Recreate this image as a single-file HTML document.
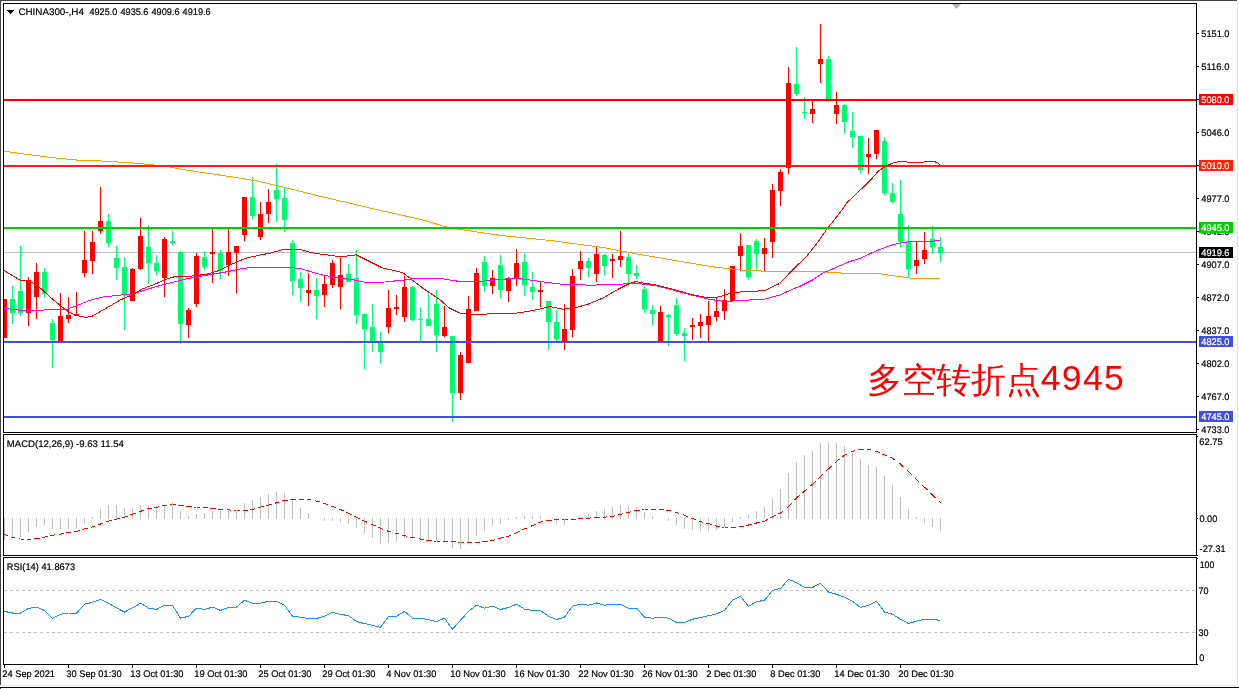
<!DOCTYPE html>
<html><head><meta charset="utf-8"><title>CHINA300 H4</title>
<style>html,body{margin:0;padding:0;background:#fff;overflow:hidden}svg{display:block}text{font-family:"Liberation Sans",sans-serif}svg{will-change:transform;transform:translateZ(0)}</style>
</head><body>
<svg width="1239" height="689" viewBox="0 0 1239 689"><rect x="0" y="0" width="1237" height="1" fill="#444"/>
<rect x="0" y="0" width="1" height="685" fill="#444"/>
<rect x="1237" y="1" width="1" height="684" fill="#e4e4e4"/>
<rect x="1" y="685" width="1237" height="1" fill="#e8e8e8"/>
<rect x="0" y="687" width="1239" height="1" fill="#000"/>
<rect x="0" y="688" width="1" height="1" fill="#444"/>
<rect x="3" y="3" width="1194" height="1" fill="#000"/>
<rect x="3" y="3" width="1" height="430" fill="#000"/>
<rect x="1196" y="3" width="1" height="430" fill="#000"/>
<rect x="3" y="432" width="1194" height="1" fill="#000"/>
<rect x="3" y="434" width="1194" height="1" fill="#000"/>
<rect x="3" y="434" width="1" height="122" fill="#000"/>
<rect x="1196" y="434" width="1" height="122" fill="#000"/>
<rect x="3" y="555" width="1194" height="1" fill="#000"/>
<rect x="3" y="557" width="1194" height="1" fill="#000"/>
<rect x="3" y="557" width="1" height="108" fill="#000"/>
<rect x="1196" y="557" width="1" height="108" fill="#000"/>
<rect x="3" y="664" width="1194" height="1" fill="#000"/>
<path d="M952 4H961L956.5 9Z" fill="#b4b4b4"/>
<clipPath id="cm"><rect x="4" y="4" width="1192" height="428"/></clipPath>
<g clip-path="url(#cm)" shape-rendering="crispEdges">
<rect x="4" y="252" width="1192" height="1" fill="#c0c0c0"/>
<rect x="4" y="299" width="1" height="39" fill="#ff0000"/>
<rect x="2" y="299" width="5" height="39" fill="#ff0000"/>
<rect x="12" y="286" width="1" height="38" fill="#00fb72"/>
<rect x="10" y="299" width="5" height="14" fill="#00fb72"/>
<rect x="20" y="246" width="1" height="70" fill="#00fb72"/>
<rect x="18" y="291" width="5" height="22" fill="#00fb72"/>
<rect x="28" y="277" width="1" height="49" fill="#ff0000"/>
<rect x="26" y="280" width="5" height="33" fill="#ff0000"/>
<rect x="36" y="263" width="1" height="56" fill="#ff0000"/>
<rect x="34" y="272" width="5" height="25" fill="#ff0000"/>
<rect x="44" y="268" width="1" height="30" fill="#00fb72"/>
<rect x="42" y="272" width="5" height="22" fill="#00fb72"/>
<rect x="52" y="319" width="1" height="49" fill="#00fb72"/>
<rect x="50" y="323" width="5" height="17" fill="#00fb72"/>
<rect x="60" y="293" width="1" height="48" fill="#ff0000"/>
<rect x="58" y="316" width="5" height="25" fill="#ff0000"/>
<rect x="68" y="297" width="1" height="26" fill="#ff0000"/>
<rect x="66" y="315" width="5" height="4" fill="#ff0000"/>
<rect x="76" y="292" width="1" height="24" fill="#ff0000"/>
<rect x="74" y="314" width="5" height="2" fill="#ff0000"/>
<rect x="84" y="231" width="1" height="46" fill="#ff0000"/>
<rect x="82" y="260" width="5" height="13" fill="#ff0000"/>
<rect x="92" y="231" width="1" height="43" fill="#ff0000"/>
<rect x="90" y="242" width="5" height="19" fill="#ff0000"/>
<rect x="100" y="187" width="1" height="47" fill="#ff0000"/>
<rect x="98" y="221" width="5" height="10" fill="#ff0000"/>
<rect x="108" y="214" width="1" height="33" fill="#00fb72"/>
<rect x="106" y="221" width="5" height="22" fill="#00fb72"/>
<rect x="116" y="246" width="1" height="34" fill="#00fb72"/>
<rect x="114" y="258" width="5" height="10" fill="#00fb72"/>
<rect x="124" y="257" width="1" height="73" fill="#00fb72"/>
<rect x="122" y="267" width="5" height="27" fill="#00fb72"/>
<rect x="132" y="268" width="1" height="33" fill="#ff0000"/>
<rect x="130" y="269" width="5" height="32" fill="#ff0000"/>
<rect x="140" y="218" width="1" height="52" fill="#ff0000"/>
<rect x="138" y="236" width="5" height="33" fill="#ff0000"/>
<rect x="148" y="225" width="1" height="59" fill="#00fb72"/>
<rect x="146" y="247" width="5" height="16" fill="#00fb72"/>
<rect x="156" y="255" width="1" height="20" fill="#00fb72"/>
<rect x="154" y="263" width="5" height="8" fill="#00fb72"/>
<rect x="164" y="237" width="1" height="60" fill="#ff0000"/>
<rect x="162" y="239" width="5" height="39" fill="#ff0000"/>
<rect x="172" y="231" width="1" height="14" fill="#00fb72"/>
<rect x="170" y="241" width="5" height="2" fill="#00fb72"/>
<rect x="180" y="251" width="1" height="93" fill="#00fb72"/>
<rect x="178" y="252" width="5" height="72" fill="#00fb72"/>
<rect x="188" y="308" width="1" height="30" fill="#ff0000"/>
<rect x="186" y="310" width="5" height="15" fill="#ff0000"/>
<rect x="196" y="253" width="1" height="54" fill="#ff0000"/>
<rect x="194" y="256" width="5" height="48" fill="#ff0000"/>
<rect x="204" y="251" width="1" height="19" fill="#00fb72"/>
<rect x="202" y="257" width="5" height="10" fill="#00fb72"/>
<rect x="212" y="229" width="1" height="54" fill="#ff0000"/>
<rect x="210" y="252" width="5" height="2" fill="#ff0000"/>
<rect x="220" y="250" width="1" height="29" fill="#00fb72"/>
<rect x="218" y="253" width="5" height="18" fill="#00fb72"/>
<rect x="228" y="229" width="1" height="47" fill="#ff0000"/>
<rect x="226" y="252" width="5" height="13" fill="#ff0000"/>
<rect x="236" y="246" width="1" height="47" fill="#ff0000"/>
<rect x="234" y="246" width="5" height="7" fill="#ff0000"/>
<rect x="244" y="197" width="1" height="44" fill="#ff0000"/>
<rect x="242" y="197" width="5" height="38" fill="#ff0000"/>
<rect x="252" y="177" width="1" height="42" fill="#00fb72"/>
<rect x="250" y="197" width="5" height="19" fill="#00fb72"/>
<rect x="260" y="202" width="1" height="38" fill="#ff0000"/>
<rect x="258" y="214" width="5" height="23" fill="#ff0000"/>
<rect x="268" y="189" width="1" height="34" fill="#ff0000"/>
<rect x="266" y="202" width="5" height="12" fill="#ff0000"/>
<rect x="276" y="164" width="1" height="58" fill="#00fb72"/>
<rect x="274" y="190" width="5" height="9" fill="#00fb72"/>
<rect x="284" y="188" width="1" height="44" fill="#00fb72"/>
<rect x="282" y="198" width="5" height="22" fill="#00fb72"/>
<rect x="292" y="240" width="1" height="55" fill="#00fb72"/>
<rect x="290" y="243" width="5" height="38" fill="#00fb72"/>
<rect x="300" y="272" width="1" height="30" fill="#00fb72"/>
<rect x="298" y="279" width="5" height="9" fill="#00fb72"/>
<rect x="308" y="273" width="1" height="33" fill="#ff0000"/>
<rect x="306" y="290" width="5" height="3" fill="#ff0000"/>
<rect x="316" y="278" width="1" height="41" fill="#00fb72"/>
<rect x="314" y="290" width="5" height="6" fill="#00fb72"/>
<rect x="324" y="276" width="1" height="31" fill="#ff0000"/>
<rect x="322" y="284" width="5" height="11" fill="#ff0000"/>
<rect x="332" y="260" width="1" height="28" fill="#ff0000"/>
<rect x="330" y="263" width="5" height="22" fill="#ff0000"/>
<rect x="340" y="258" width="1" height="51" fill="#ff0000"/>
<rect x="338" y="275" width="5" height="12" fill="#ff0000"/>
<rect x="348" y="264" width="1" height="18" fill="#00fb72"/>
<rect x="346" y="274" width="5" height="8" fill="#00fb72"/>
<rect x="356" y="250" width="1" height="74" fill="#00fb72"/>
<rect x="354" y="278" width="5" height="37" fill="#00fb72"/>
<rect x="364" y="314" width="1" height="55" fill="#00fb72"/>
<rect x="362" y="314" width="5" height="15" fill="#00fb72"/>
<rect x="372" y="304" width="1" height="48" fill="#00fb72"/>
<rect x="370" y="327" width="5" height="14" fill="#00fb72"/>
<rect x="380" y="332" width="1" height="31" fill="#00fb72"/>
<rect x="378" y="343" width="5" height="9" fill="#00fb72"/>
<rect x="388" y="290" width="1" height="43" fill="#ff0000"/>
<rect x="386" y="308" width="5" height="19" fill="#ff0000"/>
<rect x="396" y="295" width="1" height="20" fill="#ff0000"/>
<rect x="394" y="307" width="5" height="2" fill="#ff0000"/>
<rect x="404" y="276" width="1" height="46" fill="#ff0000"/>
<rect x="402" y="287" width="5" height="30" fill="#ff0000"/>
<rect x="412" y="286" width="1" height="35" fill="#00fb72"/>
<rect x="410" y="287" width="5" height="33" fill="#00fb72"/>
<rect x="420" y="307" width="1" height="34" fill="#00fb72"/>
<rect x="418" y="319" width="5" height="1" fill="#00fb72"/>
<rect x="428" y="294" width="1" height="32" fill="#00fb72"/>
<rect x="426" y="319" width="5" height="7" fill="#00fb72"/>
<rect x="436" y="290" width="1" height="62" fill="#00fb72"/>
<rect x="434" y="304" width="5" height="31" fill="#00fb72"/>
<rect x="444" y="306" width="1" height="31" fill="#ff0000"/>
<rect x="442" y="327" width="5" height="9" fill="#ff0000"/>
<rect x="452" y="336" width="1" height="86" fill="#00fb72"/>
<rect x="450" y="336" width="5" height="57" fill="#00fb72"/>
<rect x="460" y="352" width="1" height="48" fill="#ff0000"/>
<rect x="458" y="355" width="5" height="38" fill="#ff0000"/>
<rect x="468" y="296" width="1" height="67" fill="#ff0000"/>
<rect x="466" y="309" width="5" height="54" fill="#ff0000"/>
<rect x="476" y="268" width="1" height="43" fill="#ff0000"/>
<rect x="474" y="273" width="5" height="38" fill="#ff0000"/>
<rect x="484" y="256" width="1" height="35" fill="#00fb72"/>
<rect x="482" y="262" width="5" height="24" fill="#00fb72"/>
<rect x="492" y="270" width="1" height="24" fill="#ff0000"/>
<rect x="490" y="278" width="5" height="8" fill="#ff0000"/>
<rect x="500" y="255" width="1" height="43" fill="#00fb72"/>
<rect x="498" y="265" width="5" height="25" fill="#00fb72"/>
<rect x="508" y="277" width="1" height="25" fill="#ff0000"/>
<rect x="506" y="279" width="5" height="12" fill="#ff0000"/>
<rect x="516" y="249" width="1" height="37" fill="#ff0000"/>
<rect x="514" y="263" width="5" height="15" fill="#ff0000"/>
<rect x="524" y="254" width="1" height="42" fill="#00fb72"/>
<rect x="522" y="262" width="5" height="23" fill="#00fb72"/>
<rect x="532" y="272" width="1" height="28" fill="#00fb72"/>
<rect x="530" y="287" width="5" height="5" fill="#00fb72"/>
<rect x="540" y="282" width="1" height="25" fill="#ff0000"/>
<rect x="538" y="290" width="5" height="2" fill="#ff0000"/>
<rect x="548" y="301" width="1" height="49" fill="#00fb72"/>
<rect x="546" y="301" width="5" height="21" fill="#00fb72"/>
<rect x="556" y="310" width="1" height="31" fill="#00fb72"/>
<rect x="554" y="322" width="5" height="17" fill="#00fb72"/>
<rect x="564" y="304" width="1" height="46" fill="#ff0000"/>
<rect x="562" y="329" width="5" height="12" fill="#ff0000"/>
<rect x="572" y="269" width="1" height="68" fill="#ff0000"/>
<rect x="570" y="276" width="5" height="54" fill="#ff0000"/>
<rect x="580" y="251" width="1" height="29" fill="#ff0000"/>
<rect x="578" y="261" width="5" height="8" fill="#ff0000"/>
<rect x="588" y="258" width="1" height="19" fill="#00fb72"/>
<rect x="586" y="261" width="5" height="7" fill="#00fb72"/>
<rect x="596" y="246" width="1" height="36" fill="#ff0000"/>
<rect x="594" y="254" width="5" height="20" fill="#ff0000"/>
<rect x="604" y="254" width="1" height="21" fill="#00fb72"/>
<rect x="602" y="255" width="5" height="11" fill="#00fb72"/>
<rect x="612" y="254" width="1" height="24" fill="#ff0000"/>
<rect x="610" y="259" width="5" height="2" fill="#ff0000"/>
<rect x="620" y="231" width="1" height="36" fill="#ff0000"/>
<rect x="618" y="256" width="5" height="4" fill="#ff0000"/>
<rect x="628" y="253" width="1" height="30" fill="#00fb72"/>
<rect x="626" y="257" width="5" height="17" fill="#00fb72"/>
<rect x="636" y="265" width="1" height="14" fill="#00fb72"/>
<rect x="634" y="273" width="5" height="3" fill="#00fb72"/>
<rect x="644" y="286" width="1" height="27" fill="#00fb72"/>
<rect x="642" y="289" width="5" height="20" fill="#00fb72"/>
<rect x="652" y="305" width="1" height="20" fill="#00fb72"/>
<rect x="650" y="310" width="5" height="4" fill="#00fb72"/>
<rect x="660" y="306" width="1" height="35" fill="#ff0000"/>
<rect x="658" y="312" width="5" height="29" fill="#ff0000"/>
<rect x="668" y="314" width="1" height="32" fill="#00fb72"/>
<rect x="666" y="315" width="5" height="2" fill="#00fb72"/>
<rect x="676" y="298" width="1" height="38" fill="#00fb72"/>
<rect x="674" y="305" width="5" height="29" fill="#00fb72"/>
<rect x="684" y="328" width="1" height="33" fill="#00fb72"/>
<rect x="682" y="333" width="5" height="3" fill="#00fb72"/>
<rect x="692" y="318" width="1" height="22" fill="#ff0000"/>
<rect x="690" y="325" width="5" height="2" fill="#ff0000"/>
<rect x="700" y="314" width="1" height="24" fill="#ff0000"/>
<rect x="698" y="322" width="5" height="4" fill="#ff0000"/>
<rect x="708" y="301" width="1" height="40" fill="#ff0000"/>
<rect x="706" y="316" width="5" height="9" fill="#ff0000"/>
<rect x="716" y="298" width="1" height="23" fill="#ff0000"/>
<rect x="714" y="311" width="5" height="6" fill="#ff0000"/>
<rect x="724" y="289" width="1" height="31" fill="#ff0000"/>
<rect x="722" y="300" width="5" height="11" fill="#ff0000"/>
<rect x="732" y="266" width="1" height="35" fill="#ff0000"/>
<rect x="730" y="266" width="5" height="35" fill="#ff0000"/>
<rect x="740" y="233" width="1" height="38" fill="#ff0000"/>
<rect x="738" y="246" width="5" height="10" fill="#ff0000"/>
<rect x="748" y="245" width="1" height="35" fill="#00fb72"/>
<rect x="746" y="245" width="5" height="32" fill="#00fb72"/>
<rect x="756" y="239" width="1" height="31" fill="#00fb72"/>
<rect x="754" y="241" width="5" height="13" fill="#00fb72"/>
<rect x="764" y="238" width="1" height="33" fill="#ff0000"/>
<rect x="762" y="248" width="5" height="6" fill="#ff0000"/>
<rect x="772" y="184" width="1" height="74" fill="#ff0000"/>
<rect x="770" y="190" width="5" height="52" fill="#ff0000"/>
<rect x="780" y="169" width="1" height="37" fill="#ff0000"/>
<rect x="778" y="172" width="5" height="19" fill="#ff0000"/>
<rect x="788" y="67" width="1" height="107" fill="#ff0000"/>
<rect x="786" y="83" width="5" height="85" fill="#ff0000"/>
<rect x="796" y="47" width="1" height="49" fill="#00fb72"/>
<rect x="794" y="84" width="5" height="10" fill="#00fb72"/>
<rect x="804" y="97" width="1" height="22" fill="#00fb72"/>
<rect x="802" y="112" width="5" height="1" fill="#00fb72"/>
<rect x="812" y="100" width="1" height="23" fill="#ff0000"/>
<rect x="810" y="109" width="5" height="5" fill="#ff0000"/>
<rect x="820" y="24" width="1" height="59" fill="#ff0000"/>
<rect x="818" y="59" width="5" height="5" fill="#ff0000"/>
<rect x="828" y="56" width="1" height="46" fill="#00fb72"/>
<rect x="826" y="59" width="5" height="40" fill="#00fb72"/>
<rect x="836" y="92" width="1" height="32" fill="#ff0000"/>
<rect x="834" y="105" width="5" height="9" fill="#ff0000"/>
<rect x="844" y="104" width="1" height="29" fill="#00fb72"/>
<rect x="842" y="105" width="5" height="17" fill="#00fb72"/>
<rect x="852" y="112" width="1" height="36" fill="#00fb72"/>
<rect x="850" y="131" width="5" height="6" fill="#00fb72"/>
<rect x="860" y="136" width="1" height="37" fill="#00fb72"/>
<rect x="858" y="136" width="5" height="34" fill="#00fb72"/>
<rect x="868" y="138" width="1" height="36" fill="#ff0000"/>
<rect x="866" y="154" width="5" height="3" fill="#ff0000"/>
<rect x="876" y="130" width="1" height="29" fill="#ff0000"/>
<rect x="874" y="130" width="5" height="24" fill="#ff0000"/>
<rect x="884" y="137" width="1" height="58" fill="#00fb72"/>
<rect x="882" y="141" width="5" height="52" fill="#00fb72"/>
<rect x="892" y="183" width="1" height="20" fill="#00fb72"/>
<rect x="890" y="193" width="5" height="9" fill="#00fb72"/>
<rect x="900" y="180" width="1" height="67" fill="#00fb72"/>
<rect x="898" y="214" width="5" height="28" fill="#00fb72"/>
<rect x="908" y="225" width="1" height="52" fill="#00fb72"/>
<rect x="906" y="241" width="5" height="28" fill="#00fb72"/>
<rect x="916" y="241" width="1" height="33" fill="#ff0000"/>
<rect x="914" y="260" width="5" height="6" fill="#ff0000"/>
<rect x="924" y="232" width="1" height="32" fill="#ff0000"/>
<rect x="922" y="250" width="5" height="9" fill="#ff0000"/>
<rect x="932" y="226" width="1" height="28" fill="#00fb72"/>
<rect x="930" y="239" width="5" height="8" fill="#00fb72"/>
<rect x="940" y="237" width="1" height="25" fill="#00fb72"/>
<rect x="938" y="247" width="5" height="6" fill="#00fb72"/>
</g>
<g clip-path="url(#cm)">
<polyline points="3.9,151.1 25.8,154.2 51.7,157.6 77.5,160.1 103.3,161.1 129.1,162.7 149.8,164.5 167.9,166.6 180.8,169.2 206.6,173.1 232.4,176.9 258.3,181.3 284.1,187.3 309.9,193.7 320,196.2 371.7,208.4 423.3,220 449.1,227.8 500.8,235.5 552.4,240.7 604.1,247.7 640,254.5 678.7,261.1 717.5,267.5 743.3,270.1 769.1,271.4 820.8,271.9 840,272.3 841.8,273.4 880,273.6 890.6,275.5 904.5,277.2 913,278.4 940.2,278.4" fill="none" stroke="#ffa000" stroke-width="1" shape-rendering="crispEdges"/>
<polyline points="3.9,307.9 15.5,309.9 31,310.5 51.7,309.7 67.1,309.2 77.5,305.3 90.4,300.1 103.3,297 116.2,295.5 134.3,293.7 149.8,288.5 165.3,284.1 180.8,280.2 196.3,276.9 211.8,274.3 227.3,271.7 242.8,268.4 258.3,267.1 284.1,267.1 299.6,268.4 320,274.4 335.5,277.6 351,279.4 366.5,282.5 384.6,282 402.6,280.2 418.1,278.1 438.8,278.1 459.5,281.5 480.1,281.5 500.8,279.4 516.3,278.1 531.8,280.2 547.3,282.5 565.4,284.6 591.2,285.1 617,284.6 629.9,283.3 640,283.8 655.5,285.6 671,289.5 691.7,295.1 709.7,299.3 725.2,301.6 743.3,300.3 764,299.3 779.5,295.1 795,288.2 800,286.3 812.2,280.2 822.6,273.2 834.8,268 848.8,261.9 861,258 875,251.4 890.6,245.3 897.6,243.6 908,241.8 922,241.3 932.4,241.3 940.2,240.1" fill="none" stroke="#ff00ff" stroke-width="1" shape-rendering="crispEdges"/>
<polyline points="3.9,270.4 20.7,280.5 30,281.3 39.2,287 50.5,297.4 61,306.1 67.9,311.4 74.9,314.8 81.9,316.9 87.1,317.2 92.3,316.1 99.3,312.2 109.8,306.1 120.2,300 132.4,294.8 142.9,288.7 155,284.1 165.3,279.5 175.6,276.4 191.1,276.1 206.6,274.3 219.5,270.4 232.4,264 245.4,258.3 258.3,255.4 271.2,252.9 284.1,249.2 299.6,249.2 310,252.3 320,254 340.7,256.7 356.2,254.9 382,267.8 402.6,272.5 423.3,288.5 438.8,298.8 449.1,307.8 459.5,313 475,314.3 495.6,313.8 511.1,313.8 526.6,311.7 539.5,309.1 549.9,306.6 562.8,309.1 573.1,308.4 588.6,304 604.1,297.5 617,289.8 629.9,283.3 636.4,281.5 640,282.5 655.5,284.8 671,288.7 691.7,294.6 709.7,298 720.1,296.7 730.4,293.3 743.3,291.5 764,290.8 779.5,283.5 795,267.5 800,262.8 807,255.8 817.4,242.7 826,230.3 834.8,219.2 841.6,210.5 847,202.6 857.2,193 871.4,179.2 878.4,171 885.4,166.5 892.3,163.2 899.3,161.5 904.5,161.4 908,162.3 922,162.3 929,161.4 934,161.4 937.6,162.8 940.2,164.9" fill="none" stroke="#ff0000" stroke-width="1" shape-rendering="crispEdges"/>
</g>
<g shape-rendering="crispEdges">
<rect x="4" y="99" width="1192" height="2" fill="#ff0000"/>
<rect x="4" y="165" width="1192" height="2" fill="#ff2000"/>
<rect x="4" y="227" width="1192" height="2" fill="#00d000"/>
<rect x="4" y="341" width="1192" height="2" fill="#3f4fe3"/>
<rect x="4" y="416" width="1192" height="2" fill="#3f4fe3"/>
</g>
<g font-family='"Liberation Sans", sans-serif' shape-rendering="crispEdges">
<rect x="1197" y="33" width="2" height="1" fill="#000"/>
<text x="1201.3" y="37" font-size="9.5" text-rendering="geometricPrecision" fill="#000" stroke="#000" stroke-width="0.2" text-anchor="start" textLength="28.20" lengthAdjust="spacingAndGlyphs">5151.0</text>
<rect x="1197" y="66" width="2" height="1" fill="#000"/>
<text x="1201.3" y="70" font-size="9.5" text-rendering="geometricPrecision" fill="#000" stroke="#000" stroke-width="0.2" text-anchor="start" textLength="28.20" lengthAdjust="spacingAndGlyphs">5116.0</text>
<rect x="1197" y="99" width="2" height="1" fill="#000"/>
<text x="1201.3" y="103" font-size="9.5" text-rendering="geometricPrecision" fill="#000" stroke="#000" stroke-width="0.2" text-anchor="start" textLength="28.20" lengthAdjust="spacingAndGlyphs">5081.0</text>
<rect x="1197" y="132" width="2" height="1" fill="#000"/>
<text x="1201.3" y="136" font-size="9.5" text-rendering="geometricPrecision" fill="#000" stroke="#000" stroke-width="0.2" text-anchor="start" textLength="28.20" lengthAdjust="spacingAndGlyphs">5046.0</text>
<rect x="1197" y="165" width="2" height="1" fill="#000"/>
<text x="1201.3" y="169" font-size="9.5" text-rendering="geometricPrecision" fill="#000" stroke="#000" stroke-width="0.2" text-anchor="start" textLength="28.20" lengthAdjust="spacingAndGlyphs">5011.0</text>
<rect x="1197" y="198" width="2" height="1" fill="#000"/>
<text x="1201.3" y="202" font-size="9.5" text-rendering="geometricPrecision" fill="#000" stroke="#000" stroke-width="0.2" text-anchor="start" textLength="28.20" lengthAdjust="spacingAndGlyphs">4977.0</text>
<rect x="1197" y="231" width="2" height="1" fill="#000"/>
<text x="1201.3" y="235" font-size="9.5" text-rendering="geometricPrecision" fill="#000" stroke="#000" stroke-width="0.2" text-anchor="start" textLength="28.20" lengthAdjust="spacingAndGlyphs">4942.0</text>
<rect x="1197" y="264" width="2" height="1" fill="#000"/>
<text x="1201.3" y="268" font-size="9.5" text-rendering="geometricPrecision" fill="#000" stroke="#000" stroke-width="0.2" text-anchor="start" textLength="28.20" lengthAdjust="spacingAndGlyphs">4907.0</text>
<rect x="1197" y="297" width="2" height="1" fill="#000"/>
<text x="1201.3" y="301" font-size="9.5" text-rendering="geometricPrecision" fill="#000" stroke="#000" stroke-width="0.2" text-anchor="start" textLength="28.20" lengthAdjust="spacingAndGlyphs">4872.0</text>
<rect x="1197" y="330" width="2" height="1" fill="#000"/>
<text x="1201.3" y="334" font-size="9.5" text-rendering="geometricPrecision" fill="#000" stroke="#000" stroke-width="0.2" text-anchor="start" textLength="28.20" lengthAdjust="spacingAndGlyphs">4837.0</text>
<rect x="1197" y="363" width="2" height="1" fill="#000"/>
<text x="1201.3" y="367" font-size="9.5" text-rendering="geometricPrecision" fill="#000" stroke="#000" stroke-width="0.2" text-anchor="start" textLength="28.20" lengthAdjust="spacingAndGlyphs">4802.0</text>
<rect x="1197" y="396" width="2" height="1" fill="#000"/>
<text x="1201.3" y="400" font-size="9.5" text-rendering="geometricPrecision" fill="#000" stroke="#000" stroke-width="0.2" text-anchor="start" textLength="28.20" lengthAdjust="spacingAndGlyphs">4767.0</text>
<rect x="1197" y="429" width="2" height="1" fill="#000"/>
<text x="1201.3" y="433" font-size="9.5" text-rendering="geometricPrecision" fill="#000" stroke="#000" stroke-width="0.2" text-anchor="start" textLength="28.20" lengthAdjust="spacingAndGlyphs">4733.0</text>
<rect x="1197" y="252" width="2" height="1" fill="#c0c0c0"/>
<rect x="1199" y="94" width="34" height="11" fill="#ff0000"/>
<text x="1201.3" y="103" font-size="9.5" text-rendering="geometricPrecision" fill="#fff" stroke="#fff" stroke-width="0.2" text-anchor="start" textLength="28.20" lengthAdjust="spacingAndGlyphs">5080.0</text>
<rect x="1199" y="160" width="34" height="11" fill="#ff2000"/>
<text x="1201.3" y="169" font-size="9.5" text-rendering="geometricPrecision" fill="#fff" stroke="#fff" stroke-width="0.2" text-anchor="start" textLength="28.20" lengthAdjust="spacingAndGlyphs">5010.0</text>
<rect x="1199" y="222" width="34" height="11" fill="#00d000"/>
<text x="1201.3" y="231" font-size="9.5" text-rendering="geometricPrecision" fill="#fff" stroke="#fff" stroke-width="0.2" text-anchor="start" textLength="28.20" lengthAdjust="spacingAndGlyphs">4945.0</text>
<rect x="1199" y="247" width="34" height="11" fill="#000"/>
<text x="1201.3" y="256" font-size="9.5" text-rendering="geometricPrecision" fill="#fff" stroke="#fff" stroke-width="0.2" text-anchor="start" textLength="28.20" lengthAdjust="spacingAndGlyphs">4919.6</text>
<rect x="1199" y="336" width="34" height="11" fill="#3f4fe3"/>
<text x="1201.3" y="345" font-size="9.5" text-rendering="geometricPrecision" fill="#fff" stroke="#fff" stroke-width="0.2" text-anchor="start" textLength="28.20" lengthAdjust="spacingAndGlyphs">4825.0</text>
<rect x="1199" y="411" width="34" height="11" fill="#3f4fe3"/>
<text x="1201.3" y="420" font-size="9.5" text-rendering="geometricPrecision" fill="#fff" stroke="#fff" stroke-width="0.2" text-anchor="start" textLength="28.20" lengthAdjust="spacingAndGlyphs">4745.0</text>
<path d="M7 10H14L10.5 14Z" fill="#000"/>
<text x="18.4" y="15" font-size="9.5" text-rendering="geometricPrecision" fill="#000" stroke="#000" stroke-width="0.2" text-anchor="start" textLength="65.50" lengthAdjust="spacingAndGlyphs">CHINA300-,H4</text>
<text x="89.4" y="15" font-size="9.5" text-rendering="geometricPrecision" fill="#000" stroke="#000" stroke-width="0.2" text-anchor="start" textLength="28.00" lengthAdjust="spacingAndGlyphs">4925.0</text>
<text x="120.47" y="15" font-size="9.5" text-rendering="geometricPrecision" fill="#000" stroke="#000" stroke-width="0.2" text-anchor="start" textLength="28.00" lengthAdjust="spacingAndGlyphs">4935.6</text>
<text x="151.54" y="15" font-size="9.5" text-rendering="geometricPrecision" fill="#000" stroke="#000" stroke-width="0.2" text-anchor="start" textLength="28.00" lengthAdjust="spacingAndGlyphs">4909.6</text>
<text x="182.61" y="15" font-size="9.5" text-rendering="geometricPrecision" fill="#000" stroke="#000" stroke-width="0.2" text-anchor="start" textLength="28.00" lengthAdjust="spacingAndGlyphs">4919.6</text>
</g>
<g role="img" aria-label="多空转折点4945"><title>多空转折点4945</title>
<text x="866.8" y="391.7" font-family='"Liberation Sans", "Noto Sans CJK SC", sans-serif' font-size="34.8" fill="#ff0000" textLength="174" lengthAdjust="spacing">多空转折点</text>
<text x="1040.7" y="390.2" font-family='"Liberation Sans", sans-serif' font-size="35.6" fill="#ff0000" textLength="83.2" lengthAdjust="spacing">4945</text>
</g>
<g shape-rendering="crispEdges">
<rect x="4" y="518" width="1" height="22" fill="#c0c0c0"/>
<rect x="12" y="518" width="1" height="20" fill="#c0c0c0"/>
<rect x="20" y="518" width="1" height="19" fill="#c0c0c0"/>
<rect x="28" y="518" width="1" height="14" fill="#c0c0c0"/>
<rect x="36" y="518" width="1" height="9" fill="#c0c0c0"/>
<rect x="44" y="518" width="1" height="7" fill="#c0c0c0"/>
<rect x="52" y="518" width="1" height="11" fill="#c0c0c0"/>
<rect x="60" y="518" width="1" height="11" fill="#c0c0c0"/>
<rect x="68" y="518" width="1" height="11" fill="#c0c0c0"/>
<rect x="76" y="518" width="1" height="11" fill="#c0c0c0"/>
<rect x="84" y="518" width="1" height="5" fill="#c0c0c0"/>
<rect x="92" y="517" width="1" height="2" fill="#c0c0c0"/>
<rect x="100" y="509" width="1" height="10" fill="#c0c0c0"/>
<rect x="108" y="505" width="1" height="14" fill="#c0c0c0"/>
<rect x="116" y="505" width="1" height="14" fill="#c0c0c0"/>
<rect x="124" y="508" width="1" height="11" fill="#c0c0c0"/>
<rect x="132" y="508" width="1" height="11" fill="#c0c0c0"/>
<rect x="140" y="505" width="1" height="14" fill="#c0c0c0"/>
<rect x="148" y="505" width="1" height="14" fill="#c0c0c0"/>
<rect x="156" y="505" width="1" height="14" fill="#c0c0c0"/>
<rect x="164" y="505" width="1" height="14" fill="#c0c0c0"/>
<rect x="172" y="502" width="1" height="17" fill="#c0c0c0"/>
<rect x="180" y="511" width="1" height="8" fill="#c0c0c0"/>
<rect x="188" y="516" width="1" height="3" fill="#c0c0c0"/>
<rect x="196" y="514" width="1" height="5" fill="#c0c0c0"/>
<rect x="204" y="513" width="1" height="6" fill="#c0c0c0"/>
<rect x="212" y="511" width="1" height="8" fill="#c0c0c0"/>
<rect x="220" y="511" width="1" height="8" fill="#c0c0c0"/>
<rect x="228" y="511" width="1" height="8" fill="#c0c0c0"/>
<rect x="236" y="511" width="1" height="8" fill="#c0c0c0"/>
<rect x="244" y="503" width="1" height="16" fill="#c0c0c0"/>
<rect x="252" y="500" width="1" height="19" fill="#c0c0c0"/>
<rect x="260" y="497" width="1" height="22" fill="#c0c0c0"/>
<rect x="268" y="494" width="1" height="25" fill="#c0c0c0"/>
<rect x="276" y="492" width="1" height="27" fill="#c0c0c0"/>
<rect x="284" y="493" width="1" height="26" fill="#c0c0c0"/>
<rect x="292" y="499" width="1" height="20" fill="#c0c0c0"/>
<rect x="300" y="508" width="1" height="11" fill="#c0c0c0"/>
<rect x="308" y="513" width="1" height="6" fill="#c0c0c0"/>
<rect x="324" y="518" width="1" height="3" fill="#c0c0c0"/>
<rect x="332" y="518" width="1" height="3" fill="#c0c0c0"/>
<rect x="340" y="518" width="1" height="4" fill="#c0c0c0"/>
<rect x="348" y="518" width="1" height="6" fill="#c0c0c0"/>
<rect x="356" y="518" width="1" height="10" fill="#c0c0c0"/>
<rect x="364" y="518" width="1" height="16" fill="#c0c0c0"/>
<rect x="372" y="518" width="1" height="20" fill="#c0c0c0"/>
<rect x="380" y="518" width="1" height="26" fill="#c0c0c0"/>
<rect x="388" y="518" width="1" height="25" fill="#c0c0c0"/>
<rect x="396" y="518" width="1" height="24" fill="#c0c0c0"/>
<rect x="404" y="518" width="1" height="20" fill="#c0c0c0"/>
<rect x="412" y="518" width="1" height="20" fill="#c0c0c0"/>
<rect x="420" y="518" width="1" height="22" fill="#c0c0c0"/>
<rect x="428" y="518" width="1" height="22" fill="#c0c0c0"/>
<rect x="436" y="518" width="1" height="23" fill="#c0c0c0"/>
<rect x="444" y="518" width="1" height="23" fill="#c0c0c0"/>
<rect x="452" y="518" width="1" height="30" fill="#c0c0c0"/>
<rect x="460" y="518" width="1" height="31" fill="#c0c0c0"/>
<rect x="468" y="518" width="1" height="25" fill="#c0c0c0"/>
<rect x="476" y="518" width="1" height="18" fill="#c0c0c0"/>
<rect x="484" y="518" width="1" height="13" fill="#c0c0c0"/>
<rect x="492" y="518" width="1" height="8" fill="#c0c0c0"/>
<rect x="500" y="518" width="1" height="6" fill="#c0c0c0"/>
<rect x="508" y="518" width="1" height="2" fill="#c0c0c0"/>
<rect x="516" y="517" width="1" height="2" fill="#c0c0c0"/>
<rect x="524" y="516" width="1" height="3" fill="#c0c0c0"/>
<rect x="532" y="516" width="1" height="3" fill="#c0c0c0"/>
<rect x="540" y="516" width="1" height="3" fill="#c0c0c0"/>
<rect x="556" y="518" width="1" height="5" fill="#c0c0c0"/>
<rect x="564" y="518" width="1" height="7" fill="#c0c0c0"/>
<rect x="572" y="518" width="1" height="2" fill="#c0c0c0"/>
<rect x="580" y="517" width="1" height="2" fill="#c0c0c0"/>
<rect x="588" y="514" width="1" height="5" fill="#c0c0c0"/>
<rect x="596" y="511" width="1" height="8" fill="#c0c0c0"/>
<rect x="604" y="509" width="1" height="10" fill="#c0c0c0"/>
<rect x="612" y="507" width="1" height="12" fill="#c0c0c0"/>
<rect x="620" y="505" width="1" height="14" fill="#c0c0c0"/>
<rect x="628" y="506" width="1" height="13" fill="#c0c0c0"/>
<rect x="636" y="507" width="1" height="12" fill="#c0c0c0"/>
<rect x="644" y="512" width="1" height="7" fill="#c0c0c0"/>
<rect x="652" y="516" width="1" height="3" fill="#c0c0c0"/>
<rect x="668" y="518" width="1" height="3" fill="#c0c0c0"/>
<rect x="676" y="518" width="1" height="7" fill="#c0c0c0"/>
<rect x="684" y="518" width="1" height="11" fill="#c0c0c0"/>
<rect x="692" y="518" width="1" height="12" fill="#c0c0c0"/>
<rect x="700" y="518" width="1" height="13" fill="#c0c0c0"/>
<rect x="708" y="518" width="1" height="13" fill="#c0c0c0"/>
<rect x="716" y="518" width="1" height="12" fill="#c0c0c0"/>
<rect x="724" y="518" width="1" height="9" fill="#c0c0c0"/>
<rect x="732" y="518" width="1" height="4" fill="#c0c0c0"/>
<rect x="740" y="517" width="1" height="2" fill="#c0c0c0"/>
<rect x="748" y="515" width="1" height="4" fill="#c0c0c0"/>
<rect x="756" y="511" width="1" height="8" fill="#c0c0c0"/>
<rect x="764" y="507" width="1" height="12" fill="#c0c0c0"/>
<rect x="772" y="498" width="1" height="21" fill="#c0c0c0"/>
<rect x="780" y="489" width="1" height="30" fill="#c0c0c0"/>
<rect x="788" y="473" width="1" height="46" fill="#c0c0c0"/>
<rect x="796" y="462" width="1" height="57" fill="#c0c0c0"/>
<rect x="804" y="455" width="1" height="64" fill="#c0c0c0"/>
<rect x="812" y="451" width="1" height="68" fill="#c0c0c0"/>
<rect x="820" y="443" width="1" height="76" fill="#c0c0c0"/>
<rect x="828" y="442" width="1" height="77" fill="#c0c0c0"/>
<rect x="836" y="443" width="1" height="76" fill="#c0c0c0"/>
<rect x="844" y="446" width="1" height="73" fill="#c0c0c0"/>
<rect x="852" y="453" width="1" height="66" fill="#c0c0c0"/>
<rect x="860" y="459" width="1" height="60" fill="#c0c0c0"/>
<rect x="868" y="465" width="1" height="54" fill="#c0c0c0"/>
<rect x="876" y="467" width="1" height="52" fill="#c0c0c0"/>
<rect x="884" y="476" width="1" height="43" fill="#c0c0c0"/>
<rect x="892" y="485" width="1" height="34" fill="#c0c0c0"/>
<rect x="900" y="497" width="1" height="22" fill="#c0c0c0"/>
<rect x="908" y="509" width="1" height="10" fill="#c0c0c0"/>
<rect x="916" y="517" width="1" height="2" fill="#c0c0c0"/>
<rect x="924" y="518" width="1" height="5" fill="#c0c0c0"/>
<rect x="932" y="518" width="1" height="9" fill="#c0c0c0"/>
<rect x="940" y="518" width="1" height="13" fill="#c0c0c0"/>
</g>
<clipPath id="c2"><rect x="4" y="435" width="1192" height="120"/></clipPath>
<g clip-path="url(#c2)">
<line x1="4.5" y1="534.3" x2="12.5" y2="537.6" stroke="#ff0000" stroke-width="1" shape-rendering="crispEdges" stroke-dasharray="3.25 3.25"/>
<line x1="12.5" y1="537.6" x2="20.5" y2="539.1" stroke="#ff0000" stroke-width="1" shape-rendering="crispEdges" stroke-dasharray="3.05 3.05"/>
<line x1="20.5" y1="539.1" x2="28.5" y2="539.1" stroke="#ff0000" stroke-width="1" shape-rendering="crispEdges" stroke-dasharray="3.00 3.00"/>
<line x1="28.5" y1="539.1" x2="36.5" y2="538.9" stroke="#ff0000" stroke-width="1" shape-rendering="crispEdges" stroke-dasharray="3.00 3.00"/>
<line x1="36.5" y1="538.9" x2="44.5" y2="537.2" stroke="#ff0000" stroke-width="1" shape-rendering="crispEdges" stroke-dasharray="3.07 3.07"/>
<line x1="44.5" y1="537.2" x2="52.5" y2="535.2" stroke="#ff0000" stroke-width="1" shape-rendering="crispEdges" stroke-dasharray="3.09 3.09"/>
<line x1="52.5" y1="535.2" x2="60.5" y2="534.1" stroke="#ff0000" stroke-width="1" shape-rendering="crispEdges" stroke-dasharray="3.03 3.03"/>
<line x1="60.5" y1="534.1" x2="68.5" y2="532.3" stroke="#ff0000" stroke-width="1" shape-rendering="crispEdges" stroke-dasharray="3.08 3.08"/>
<line x1="68.5" y1="532.3" x2="76.5" y2="531.4" stroke="#ff0000" stroke-width="1" shape-rendering="crispEdges" stroke-dasharray="3.02 3.02"/>
<line x1="76.5" y1="531.4" x2="84.5" y2="528.9" stroke="#ff0000" stroke-width="1" shape-rendering="crispEdges" stroke-dasharray="3.14 3.14"/>
<line x1="84.5" y1="528.9" x2="92.5" y2="526.9" stroke="#ff0000" stroke-width="1" shape-rendering="crispEdges" stroke-dasharray="3.09 3.09"/>
<line x1="92.5" y1="526.9" x2="100.5" y2="524" stroke="#ff0000" stroke-width="1" shape-rendering="crispEdges" stroke-dasharray="3.19 3.19"/>
<line x1="100.5" y1="524" x2="108.5" y2="521.1" stroke="#ff0000" stroke-width="1" shape-rendering="crispEdges" stroke-dasharray="3.19 3.19"/>
<line x1="108.5" y1="521.1" x2="116.5" y2="519.2" stroke="#ff0000" stroke-width="1" shape-rendering="crispEdges" stroke-dasharray="3.08 3.08"/>
<line x1="116.5" y1="519.2" x2="124.5" y2="517.2" stroke="#ff0000" stroke-width="1" shape-rendering="crispEdges" stroke-dasharray="3.09 3.09"/>
<line x1="124.5" y1="517.2" x2="132.5" y2="514.3" stroke="#ff0000" stroke-width="1" shape-rendering="crispEdges" stroke-dasharray="3.19 3.19"/>
<line x1="132.5" y1="514.3" x2="140.5" y2="511.4" stroke="#ff0000" stroke-width="1" shape-rendering="crispEdges" stroke-dasharray="3.19 3.19"/>
<line x1="140.5" y1="511.4" x2="148.5" y2="508.5" stroke="#ff0000" stroke-width="1" shape-rendering="crispEdges" stroke-dasharray="3.19 3.19"/>
<line x1="148.5" y1="508.5" x2="156.5" y2="507.5" stroke="#ff0000" stroke-width="1" shape-rendering="crispEdges" stroke-dasharray="3.02 3.02"/>
<line x1="156.5" y1="507.5" x2="164.5" y2="505.2" stroke="#ff0000" stroke-width="1" shape-rendering="crispEdges" stroke-dasharray="3.12 3.12"/>
<line x1="164.5" y1="505.2" x2="172.5" y2="504.6" stroke="#ff0000" stroke-width="1" shape-rendering="crispEdges" stroke-dasharray="3.01 3.01"/>
<line x1="172.5" y1="504.6" x2="180.5" y2="505.6" stroke="#ff0000" stroke-width="1" shape-rendering="crispEdges" stroke-dasharray="3.02 3.02"/>
<line x1="180.5" y1="505.6" x2="188.5" y2="506.6" stroke="#ff0000" stroke-width="1" shape-rendering="crispEdges" stroke-dasharray="3.02 3.02"/>
<line x1="188.5" y1="506.6" x2="196.5" y2="507.5" stroke="#ff0000" stroke-width="1" shape-rendering="crispEdges" stroke-dasharray="3.02 3.02"/>
<line x1="196.5" y1="507.5" x2="204.5" y2="507.5" stroke="#ff0000" stroke-width="1" shape-rendering="crispEdges" stroke-dasharray="3.00 3.00"/>
<line x1="204.5" y1="507.5" x2="212.5" y2="508.5" stroke="#ff0000" stroke-width="1" shape-rendering="crispEdges" stroke-dasharray="3.02 3.02"/>
<line x1="212.5" y1="508.5" x2="220.5" y2="509.5" stroke="#ff0000" stroke-width="1" shape-rendering="crispEdges" stroke-dasharray="3.02 3.02"/>
<line x1="220.5" y1="509.5" x2="228.5" y2="509.9" stroke="#ff0000" stroke-width="1" shape-rendering="crispEdges" stroke-dasharray="3.00 3.00"/>
<line x1="228.5" y1="509.9" x2="236.5" y2="510.5" stroke="#ff0000" stroke-width="1" shape-rendering="crispEdges" stroke-dasharray="3.01 3.01"/>
<line x1="236.5" y1="510.5" x2="244.5" y2="510.5" stroke="#ff0000" stroke-width="1" shape-rendering="crispEdges" stroke-dasharray="3.00 3.00"/>
<line x1="244.5" y1="510.5" x2="252.5" y2="509.5" stroke="#ff0000" stroke-width="1" shape-rendering="crispEdges" stroke-dasharray="3.02 3.02"/>
<line x1="252.5" y1="509.5" x2="260.5" y2="507.2" stroke="#ff0000" stroke-width="1" shape-rendering="crispEdges" stroke-dasharray="3.12 3.12"/>
<line x1="260.5" y1="507.2" x2="268.5" y2="505.2" stroke="#ff0000" stroke-width="1" shape-rendering="crispEdges" stroke-dasharray="3.09 3.09"/>
<line x1="268.5" y1="505.2" x2="276.5" y2="502.7" stroke="#ff0000" stroke-width="1" shape-rendering="crispEdges" stroke-dasharray="3.14 3.14"/>
<line x1="276.5" y1="502.7" x2="284.5" y2="500.4" stroke="#ff0000" stroke-width="1" shape-rendering="crispEdges" stroke-dasharray="3.12 3.12"/>
<line x1="284.5" y1="500.4" x2="292.5" y2="499.4" stroke="#ff0000" stroke-width="1" shape-rendering="crispEdges" stroke-dasharray="3.02 3.02"/>
<line x1="292.5" y1="499.4" x2="300.5" y2="499.4" stroke="#ff0000" stroke-width="1" shape-rendering="crispEdges" stroke-dasharray="3.00 3.00"/>
<line x1="300.5" y1="499.4" x2="308.5" y2="499.4" stroke="#ff0000" stroke-width="1" shape-rendering="crispEdges" stroke-dasharray="3.00 3.00"/>
<line x1="308.5" y1="499.4" x2="316.5" y2="501.2" stroke="#ff0000" stroke-width="1" shape-rendering="crispEdges" stroke-dasharray="3.08 3.08"/>
<line x1="316.5" y1="501.2" x2="324.5" y2="503.3" stroke="#ff0000" stroke-width="1" shape-rendering="crispEdges" stroke-dasharray="3.10 3.10"/>
<line x1="324.5" y1="503.3" x2="332.5" y2="506.6" stroke="#ff0000" stroke-width="1" shape-rendering="crispEdges" stroke-dasharray="3.25 3.25"/>
<line x1="332.5" y1="506.6" x2="340.5" y2="509.5" stroke="#ff0000" stroke-width="1" shape-rendering="crispEdges" stroke-dasharray="3.19 3.19"/>
<line x1="340.5" y1="509.5" x2="348.5" y2="513.4" stroke="#ff0000" stroke-width="1" shape-rendering="crispEdges" stroke-dasharray="3.34 3.34"/>
<line x1="348.5" y1="513.4" x2="356.5" y2="517.2" stroke="#ff0000" stroke-width="1" shape-rendering="crispEdges" stroke-dasharray="3.32 3.32"/>
<line x1="356.5" y1="517.2" x2="364.5" y2="521.1" stroke="#ff0000" stroke-width="1" shape-rendering="crispEdges" stroke-dasharray="3.34 3.34"/>
<line x1="364.5" y1="521.1" x2="372.5" y2="524.6" stroke="#ff0000" stroke-width="1" shape-rendering="crispEdges" stroke-dasharray="3.27 3.27"/>
<line x1="372.5" y1="524.6" x2="380.5" y2="528.3" stroke="#ff0000" stroke-width="1" shape-rendering="crispEdges" stroke-dasharray="3.31 3.31"/>
<line x1="380.5" y1="528.3" x2="388.5" y2="531.4" stroke="#ff0000" stroke-width="1" shape-rendering="crispEdges" stroke-dasharray="3.22 3.22"/>
<line x1="388.5" y1="531.4" x2="396.5" y2="533.3" stroke="#ff0000" stroke-width="1" shape-rendering="crispEdges" stroke-dasharray="3.08 3.08"/>
<line x1="396.5" y1="533.3" x2="404.5" y2="535.6" stroke="#ff0000" stroke-width="1" shape-rendering="crispEdges" stroke-dasharray="3.12 3.12"/>
<line x1="404.5" y1="535.6" x2="412.5" y2="537.6" stroke="#ff0000" stroke-width="1" shape-rendering="crispEdges" stroke-dasharray="3.09 3.09"/>
<line x1="412.5" y1="537.6" x2="420.5" y2="539.1" stroke="#ff0000" stroke-width="1" shape-rendering="crispEdges" stroke-dasharray="3.05 3.05"/>
<line x1="420.5" y1="539.1" x2="428.5" y2="540.5" stroke="#ff0000" stroke-width="1" shape-rendering="crispEdges" stroke-dasharray="3.05 3.05"/>
<line x1="428.5" y1="540.5" x2="436.5" y2="541.4" stroke="#ff0000" stroke-width="1" shape-rendering="crispEdges" stroke-dasharray="3.02 3.02"/>
<line x1="436.5" y1="541.4" x2="444.5" y2="541.4" stroke="#ff0000" stroke-width="1" shape-rendering="crispEdges" stroke-dasharray="3.00 3.00"/>
<line x1="444.5" y1="541.4" x2="452.5" y2="541.4" stroke="#ff0000" stroke-width="1" shape-rendering="crispEdges" stroke-dasharray="3.00 3.00"/>
<line x1="452.5" y1="541.4" x2="460.5" y2="542.4" stroke="#ff0000" stroke-width="1" shape-rendering="crispEdges" stroke-dasharray="3.02 3.02"/>
<line x1="460.5" y1="542.4" x2="468.5" y2="542.4" stroke="#ff0000" stroke-width="1" shape-rendering="crispEdges" stroke-dasharray="3.00 3.00"/>
<line x1="468.5" y1="542.4" x2="476.5" y2="542.4" stroke="#ff0000" stroke-width="1" shape-rendering="crispEdges" stroke-dasharray="3.00 3.00"/>
<line x1="476.5" y1="542.4" x2="484.5" y2="541.4" stroke="#ff0000" stroke-width="1" shape-rendering="crispEdges" stroke-dasharray="3.02 3.02"/>
<line x1="484.5" y1="541.4" x2="492.5" y2="540.5" stroke="#ff0000" stroke-width="1" shape-rendering="crispEdges" stroke-dasharray="3.02 3.02"/>
<line x1="492.5" y1="540.5" x2="500.5" y2="538.1" stroke="#ff0000" stroke-width="1" shape-rendering="crispEdges" stroke-dasharray="3.13 3.13"/>
<line x1="500.5" y1="538.1" x2="508.5" y2="536.2" stroke="#ff0000" stroke-width="1" shape-rendering="crispEdges" stroke-dasharray="3.08 3.08"/>
<line x1="508.5" y1="536.2" x2="516.5" y2="532.7" stroke="#ff0000" stroke-width="1" shape-rendering="crispEdges" stroke-dasharray="3.27 3.27"/>
<line x1="516.5" y1="532.7" x2="524.5" y2="528.9" stroke="#ff0000" stroke-width="1" shape-rendering="crispEdges" stroke-dasharray="3.32 3.32"/>
<line x1="524.5" y1="528.9" x2="532.5" y2="525.6" stroke="#ff0000" stroke-width="1" shape-rendering="crispEdges" stroke-dasharray="3.25 3.25"/>
<line x1="532.5" y1="525.6" x2="540.5" y2="522.1" stroke="#ff0000" stroke-width="1" shape-rendering="crispEdges" stroke-dasharray="3.27 3.27"/>
<line x1="540.5" y1="522.1" x2="548.5" y2="520.5" stroke="#ff0000" stroke-width="1" shape-rendering="crispEdges" stroke-dasharray="3.06 3.06"/>
<line x1="548.5" y1="520.5" x2="556.5" y2="519.7" stroke="#ff0000" stroke-width="1" shape-rendering="crispEdges" stroke-dasharray="3.01 3.01"/>
<line x1="556.5" y1="519.7" x2="564.5" y2="519.6" stroke="#ff0000" stroke-width="1" shape-rendering="crispEdges" stroke-dasharray="3.00 3.00"/>
<line x1="564.5" y1="519.6" x2="572.5" y2="519.6" stroke="#ff0000" stroke-width="1" shape-rendering="crispEdges" stroke-dasharray="3.00 3.00"/>
<line x1="572.5" y1="519.6" x2="580.5" y2="518.6" stroke="#ff0000" stroke-width="1" shape-rendering="crispEdges" stroke-dasharray="3.02 3.02"/>
<line x1="580.5" y1="518.6" x2="588.5" y2="518.2" stroke="#ff0000" stroke-width="1" shape-rendering="crispEdges" stroke-dasharray="3.00 3.00"/>
<line x1="588.5" y1="518.2" x2="596.5" y2="517.2" stroke="#ff0000" stroke-width="1" shape-rendering="crispEdges" stroke-dasharray="3.02 3.02"/>
<line x1="596.5" y1="517.2" x2="604.5" y2="517.2" stroke="#ff0000" stroke-width="1" shape-rendering="crispEdges" stroke-dasharray="3.00 3.00"/>
<line x1="604.5" y1="517.2" x2="612.5" y2="516.3" stroke="#ff0000" stroke-width="1" shape-rendering="crispEdges" stroke-dasharray="3.02 3.02"/>
<line x1="612.5" y1="516.3" x2="620.5" y2="514.3" stroke="#ff0000" stroke-width="1" shape-rendering="crispEdges" stroke-dasharray="3.09 3.09"/>
<line x1="620.5" y1="514.3" x2="628.5" y2="512.4" stroke="#ff0000" stroke-width="1" shape-rendering="crispEdges" stroke-dasharray="3.08 3.08"/>
<line x1="628.5" y1="512.4" x2="636.5" y2="510.5" stroke="#ff0000" stroke-width="1" shape-rendering="crispEdges" stroke-dasharray="3.08 3.08"/>
<line x1="636.5" y1="510.5" x2="644.5" y2="509.5" stroke="#ff0000" stroke-width="1" shape-rendering="crispEdges" stroke-dasharray="3.02 3.02"/>
<line x1="644.5" y1="509.5" x2="652.5" y2="509.5" stroke="#ff0000" stroke-width="1" shape-rendering="crispEdges" stroke-dasharray="3.00 3.00"/>
<line x1="652.5" y1="509.5" x2="660.5" y2="509.5" stroke="#ff0000" stroke-width="1" shape-rendering="crispEdges" stroke-dasharray="3.00 3.00"/>
<line x1="660.5" y1="509.5" x2="668.5" y2="510.5" stroke="#ff0000" stroke-width="1" shape-rendering="crispEdges" stroke-dasharray="3.02 3.02"/>
<line x1="668.5" y1="510.5" x2="676.5" y2="512.4" stroke="#ff0000" stroke-width="1" shape-rendering="crispEdges" stroke-dasharray="3.08 3.08"/>
<line x1="676.5" y1="512.4" x2="684.5" y2="515.3" stroke="#ff0000" stroke-width="1" shape-rendering="crispEdges" stroke-dasharray="3.19 3.19"/>
<line x1="684.5" y1="515.3" x2="692.5" y2="518.6" stroke="#ff0000" stroke-width="1" shape-rendering="crispEdges" stroke-dasharray="3.25 3.25"/>
<line x1="692.5" y1="518.6" x2="700.5" y2="521.5" stroke="#ff0000" stroke-width="1" shape-rendering="crispEdges" stroke-dasharray="3.19 3.19"/>
<line x1="700.5" y1="521.5" x2="708.5" y2="523.6" stroke="#ff0000" stroke-width="1" shape-rendering="crispEdges" stroke-dasharray="3.10 3.10"/>
<line x1="708.5" y1="523.6" x2="716.5" y2="526.3" stroke="#ff0000" stroke-width="1" shape-rendering="crispEdges" stroke-dasharray="3.17 3.17"/>
<line x1="716.5" y1="526.3" x2="724.5" y2="527.5" stroke="#ff0000" stroke-width="1" shape-rendering="crispEdges" stroke-dasharray="3.03 3.03"/>
<line x1="724.5" y1="527.5" x2="732.5" y2="527.5" stroke="#ff0000" stroke-width="1" shape-rendering="crispEdges" stroke-dasharray="3.00 3.00"/>
<line x1="732.5" y1="527.5" x2="740.5" y2="526.9" stroke="#ff0000" stroke-width="1" shape-rendering="crispEdges" stroke-dasharray="3.01 3.01"/>
<line x1="740.5" y1="526.9" x2="748.5" y2="525" stroke="#ff0000" stroke-width="1" shape-rendering="crispEdges" stroke-dasharray="3.08 3.08"/>
<line x1="748.5" y1="525" x2="756.5" y2="523" stroke="#ff0000" stroke-width="1" shape-rendering="crispEdges" stroke-dasharray="3.09 3.09"/>
<line x1="756.5" y1="523" x2="764.5" y2="521.1" stroke="#ff0000" stroke-width="1" shape-rendering="crispEdges" stroke-dasharray="3.08 3.08"/>
<line x1="764.5" y1="521.1" x2="772.5" y2="516.8" stroke="#ff0000" stroke-width="1" shape-rendering="crispEdges" stroke-dasharray="3.41 3.41"/>
<line x1="772.5" y1="516.8" x2="780.5" y2="513" stroke="#ff0000" stroke-width="1" shape-rendering="crispEdges" stroke-dasharray="3.32 3.32"/>
<line x1="780.5" y1="513" x2="788.5" y2="506.6" stroke="#ff0000" stroke-width="1" shape-rendering="crispEdges" stroke-dasharray="3.84 3.84"/>
<line x1="788.5" y1="506.6" x2="796.5" y2="497.9" stroke="#ff0000" stroke-width="1" shape-rendering="crispEdges" stroke-dasharray="4.43 4.43"/>
<line x1="796.5" y1="497.9" x2="804.5" y2="491.1" stroke="#ff0000" stroke-width="1" shape-rendering="crispEdges" stroke-dasharray="3.94 3.94"/>
<line x1="804.5" y1="491.1" x2="812.5" y2="484.3" stroke="#ff0000" stroke-width="1" shape-rendering="crispEdges" stroke-dasharray="3.94 3.94"/>
<line x1="812.5" y1="484.3" x2="820.5" y2="476.6" stroke="#ff0000" stroke-width="1" shape-rendering="crispEdges" stroke-dasharray="4.16 4.16"/>
<line x1="820.5" y1="476.6" x2="828.5" y2="468.8" stroke="#ff0000" stroke-width="1" shape-rendering="crispEdges" stroke-dasharray="4.19 4.19"/>
<line x1="828.5" y1="468.8" x2="836.5" y2="461.4" stroke="#ff0000" stroke-width="1" shape-rendering="crispEdges" stroke-dasharray="4.09 4.09"/>
<line x1="836.5" y1="461.4" x2="844.5" y2="455.2" stroke="#ff0000" stroke-width="1" shape-rendering="crispEdges" stroke-dasharray="3.80 3.80"/>
<line x1="844.5" y1="455.2" x2="852.5" y2="451.4" stroke="#ff0000" stroke-width="1" shape-rendering="crispEdges" stroke-dasharray="3.32 3.32"/>
<line x1="852.5" y1="451.4" x2="860.5" y2="449.4" stroke="#ff0000" stroke-width="1" shape-rendering="crispEdges" stroke-dasharray="3.09 3.09"/>
<line x1="860.5" y1="449.4" x2="868.5" y2="449.4" stroke="#ff0000" stroke-width="1" shape-rendering="crispEdges" stroke-dasharray="3.00 3.00"/>
<line x1="868.5" y1="449.4" x2="876.5" y2="451.4" stroke="#ff0000" stroke-width="1" shape-rendering="crispEdges" stroke-dasharray="3.09 3.09"/>
<line x1="876.5" y1="451.4" x2="884.5" y2="454.9" stroke="#ff0000" stroke-width="1" shape-rendering="crispEdges" stroke-dasharray="3.27 3.27"/>
<line x1="884.5" y1="454.9" x2="892.5" y2="458.2" stroke="#ff0000" stroke-width="1" shape-rendering="crispEdges" stroke-dasharray="3.25 3.25"/>
<line x1="892.5" y1="458.2" x2="900.5" y2="464" stroke="#ff0000" stroke-width="1" shape-rendering="crispEdges" stroke-dasharray="3.71 3.71"/>
<line x1="900.5" y1="464" x2="908.5" y2="471.7" stroke="#ff0000" stroke-width="1" shape-rendering="crispEdges" stroke-dasharray="4.16 4.16"/>
<line x1="908.5" y1="471.7" x2="916.5" y2="479.5" stroke="#ff0000" stroke-width="1" shape-rendering="crispEdges" stroke-dasharray="4.19 4.19"/>
<line x1="916.5" y1="479.5" x2="924.5" y2="487.2" stroke="#ff0000" stroke-width="1" shape-rendering="crispEdges" stroke-dasharray="4.16 4.16"/>
<line x1="924.5" y1="487.2" x2="932.5" y2="495" stroke="#ff0000" stroke-width="1" shape-rendering="crispEdges" stroke-dasharray="4.19 4.19"/>
<line x1="932.5" y1="495" x2="940.5" y2="502.7" stroke="#ff0000" stroke-width="1" shape-rendering="crispEdges" stroke-dasharray="4.16 4.16"/>
</g>
<g font-family='"Liberation Sans", sans-serif' shape-rendering="crispEdges">
<text x="6.8" y="447" font-size="9.5" text-rendering="geometricPrecision" fill="#000" stroke="#000" stroke-width="0.2" text-anchor="start" textLength="117.00" lengthAdjust="spacingAndGlyphs">MACD(12,26,9) -9.63 11.54</text>
<rect x="1197" y="436" width="1" height="1" fill="#000"/>
<text x="1199.2" y="444.7" font-size="9.5" text-rendering="geometricPrecision" fill="#000" stroke="#000" stroke-width="0.2" text-anchor="start" textLength="23.50" lengthAdjust="spacingAndGlyphs">62.75</text>
<rect x="1197" y="518" width="1" height="1" fill="#000"/>
<text x="1199.4" y="521.8" font-size="9.5" text-rendering="geometricPrecision" fill="#000" stroke="#000" stroke-width="0.2" text-anchor="start" textLength="17.90" lengthAdjust="spacingAndGlyphs">0.00</text>
<rect x="1197" y="555" width="1" height="1" fill="#000"/>
<text x="1199.6" y="552" font-size="9.5" text-rendering="geometricPrecision" fill="#000" stroke="#000" stroke-width="0.2" text-anchor="start" textLength="26.00" lengthAdjust="spacingAndGlyphs">-27.31</text>
</g>
<g shape-rendering="crispEdges">
<line x1="4" y1="590.5" x2="1196" y2="590.5" stroke="#c0c0c0" stroke-width="1" stroke-dasharray="3,3"/>
<line x1="4" y1="632.5" x2="1196" y2="632.5" stroke="#c0c0c0" stroke-width="1" stroke-dasharray="3,3"/>
</g>
<clipPath id="c3"><rect x="4" y="558" width="1192" height="106"/></clipPath>
<g clip-path="url(#c3)">
<polyline points="4.5,611.4 12.5,613 20.5,613 28.5,608.5 36.5,607.1 44.5,610.4 52.5,618.2 60.5,614.3 68.5,613 76.5,613 84.5,604.2 92.5,602.3 100.5,599.3 108.5,603.2 116.5,607.9 124.5,612 132.5,607.9 140.5,603.2 148.5,608.1 156.5,609.5 164.5,605.2 172.5,605.2 180.5,618.2 188.5,616.3 196.5,608.1 204.5,609.5 212.5,607.1 220.5,610.4 228.5,607.5 236.5,607.1 244.5,600.3 252.5,603.2 260.5,603.2 268.5,601.3 276.5,601.3 284.5,605.2 292.5,616.3 300.5,617.2 308.5,618.6 316.5,618.6 324.5,616.3 332.5,612.4 340.5,614.3 348.5,615.7 356.5,621.5 364.5,623.5 372.5,625.4 380.5,627.3 388.5,616.6 396.5,616.3 404.5,611.4 412.5,618.2 420.5,618.2 428.5,619.6 436.5,621.5 444.5,618.2 452.5,629.3 460.5,620.2 468.5,611.4 476.5,605.2 484.5,608.1 492.5,606.1 500.5,609.5 508.5,607.5 516.5,604.2 524.5,609.1 532.5,610.4 540.5,610.4 548.5,616.3 556.5,619.6 564.5,617.2 572.5,606.1 580.5,604.2 588.5,605.2 596.5,603 604.5,605.2 612.5,604.2 620.5,604.2 628.5,608.1 636.5,608.1 644.5,617.2 652.5,618.2 660.5,617.2 668.5,618.2 676.5,622.5 684.5,622.5 692.5,619.2 700.5,617.6 708.5,615.7 716.5,613.9 724.5,610.4 732.5,600.1 740.5,596.2 748.5,606.5 756.5,601.7 764.5,600.3 772.5,590.4 780.5,588.5 788.5,579.3 796.5,582.6 804.5,587.5 812.5,587.5 820.5,583.2 828.5,592 836.5,594.3 844.5,597.2 852.5,601.1 860.5,607.5 868.5,605.2 876.5,601.3 884.5,612 892.5,614.3 900.5,619.2 908.5,623.5 916.5,621.1 924.5,619.2 932.5,619.2 940.5,620.5" fill="none" stroke="#1e90ff" stroke-width="1" shape-rendering="crispEdges"/>
</g>
<g font-family='"Liberation Sans", sans-serif' shape-rendering="crispEdges">
<text x="6.8" y="569.8" font-size="9.5" text-rendering="geometricPrecision" fill="#000" stroke="#000" stroke-width="0.2" text-anchor="start" textLength="68.30" lengthAdjust="spacingAndGlyphs">RSI(14) 41.8673</text>
<rect x="1197" y="558" width="1" height="1" fill="#000"/>
<text x="1199.7" y="567.8" font-size="9.5" text-rendering="geometricPrecision" fill="#000" stroke="#000" stroke-width="0.2" text-anchor="start" textLength="14.70" lengthAdjust="spacingAndGlyphs">100</text>
<text x="1198.4" y="593.9" font-size="9.5" text-rendering="geometricPrecision" fill="#000" stroke="#000" stroke-width="0.2" text-anchor="start" textLength="10.00" lengthAdjust="spacingAndGlyphs">70</text>
<text x="1198.4" y="636" font-size="9.5" text-rendering="geometricPrecision" fill="#000" stroke="#000" stroke-width="0.2" text-anchor="start" textLength="10.00" lengthAdjust="spacingAndGlyphs">30</text>
<text x="1199.3" y="660.8" font-size="9.5" text-rendering="geometricPrecision" fill="#000" stroke="#000" stroke-width="0.2" text-anchor="start" textLength="5.10" lengthAdjust="spacingAndGlyphs">0</text>
<rect x="1197" y="664" width="1" height="1" fill="#000"/>
<rect x="4" y="665" width="1" height="3" fill="#000"/>
<text x="2.3" y="677" font-size="9.5" text-rendering="geometricPrecision" fill="#000" stroke="#000" stroke-width="0.2" text-anchor="start" textLength="52.72" lengthAdjust="spacingAndGlyphs">24 Sep 2021</text>
<rect x="68" y="665" width="1" height="3" fill="#000"/>
<text x="66.3" y="677" font-size="9.5" text-rendering="geometricPrecision" fill="#000" stroke="#000" stroke-width="0.2" text-anchor="start" textLength="55.30" lengthAdjust="spacingAndGlyphs">30 Sep 01:30</text>
<rect x="132" y="665" width="1" height="3" fill="#000"/>
<text x="130.3" y="677" font-size="9.5" text-rendering="geometricPrecision" fill="#000" stroke="#000" stroke-width="0.2" text-anchor="start" textLength="53.22" lengthAdjust="spacingAndGlyphs">13 Oct 01:30</text>
<rect x="196" y="665" width="1" height="3" fill="#000"/>
<text x="194.3" y="677" font-size="9.5" text-rendering="geometricPrecision" fill="#000" stroke="#000" stroke-width="0.2" text-anchor="start" textLength="53.22" lengthAdjust="spacingAndGlyphs">19 Oct 01:30</text>
<rect x="260" y="665" width="1" height="3" fill="#000"/>
<text x="258.3" y="677" font-size="9.5" text-rendering="geometricPrecision" fill="#000" stroke="#000" stroke-width="0.2" text-anchor="start" textLength="53.22" lengthAdjust="spacingAndGlyphs">25 Oct 01:30</text>
<rect x="324" y="665" width="1" height="3" fill="#000"/>
<text x="322.3" y="677" font-size="9.5" text-rendering="geometricPrecision" fill="#000" stroke="#000" stroke-width="0.2" text-anchor="start" textLength="53.22" lengthAdjust="spacingAndGlyphs">29 Oct 01:30</text>
<rect x="388" y="665" width="1" height="3" fill="#000"/>
<text x="386.3" y="677" font-size="9.5" text-rendering="geometricPrecision" fill="#000" stroke="#000" stroke-width="0.2" text-anchor="start" textLength="50.12" lengthAdjust="spacingAndGlyphs">4 Nov 01:30</text>
<rect x="452" y="665" width="1" height="3" fill="#000"/>
<text x="450.3" y="677" font-size="9.5" text-rendering="geometricPrecision" fill="#000" stroke="#000" stroke-width="0.2" text-anchor="start" textLength="55.29" lengthAdjust="spacingAndGlyphs">10 Nov 01:30</text>
<rect x="516" y="665" width="1" height="3" fill="#000"/>
<text x="514.3" y="677" font-size="9.5" text-rendering="geometricPrecision" fill="#000" stroke="#000" stroke-width="0.2" text-anchor="start" textLength="55.29" lengthAdjust="spacingAndGlyphs">16 Nov 01:30</text>
<rect x="580" y="665" width="1" height="3" fill="#000"/>
<text x="578.3" y="677" font-size="9.5" text-rendering="geometricPrecision" fill="#000" stroke="#000" stroke-width="0.2" text-anchor="start" textLength="55.29" lengthAdjust="spacingAndGlyphs">22 Nov 01:30</text>
<rect x="644" y="665" width="1" height="3" fill="#000"/>
<text x="642.3" y="677" font-size="9.5" text-rendering="geometricPrecision" fill="#000" stroke="#000" stroke-width="0.2" text-anchor="start" textLength="55.29" lengthAdjust="spacingAndGlyphs">26 Nov 01:30</text>
<rect x="708" y="665" width="1" height="3" fill="#000"/>
<text x="706.3" y="677" font-size="9.5" text-rendering="geometricPrecision" fill="#000" stroke="#000" stroke-width="0.2" text-anchor="start" textLength="50.12" lengthAdjust="spacingAndGlyphs">2 Dec 01:30</text>
<rect x="772" y="665" width="1" height="3" fill="#000"/>
<text x="770.3" y="677" font-size="9.5" text-rendering="geometricPrecision" fill="#000" stroke="#000" stroke-width="0.2" text-anchor="start" textLength="50.12" lengthAdjust="spacingAndGlyphs">8 Dec 01:30</text>
<rect x="836" y="665" width="1" height="3" fill="#000"/>
<text x="834.3" y="677" font-size="9.5" text-rendering="geometricPrecision" fill="#000" stroke="#000" stroke-width="0.2" text-anchor="start" textLength="55.29" lengthAdjust="spacingAndGlyphs">14 Dec 01:30</text>
<rect x="900" y="665" width="1" height="3" fill="#000"/>
<text x="898.3" y="677" font-size="9.5" text-rendering="geometricPrecision" fill="#000" stroke="#000" stroke-width="0.2" text-anchor="start" textLength="55.29" lengthAdjust="spacingAndGlyphs">20 Dec 01:30</text>
</g></svg>
</body></html>
